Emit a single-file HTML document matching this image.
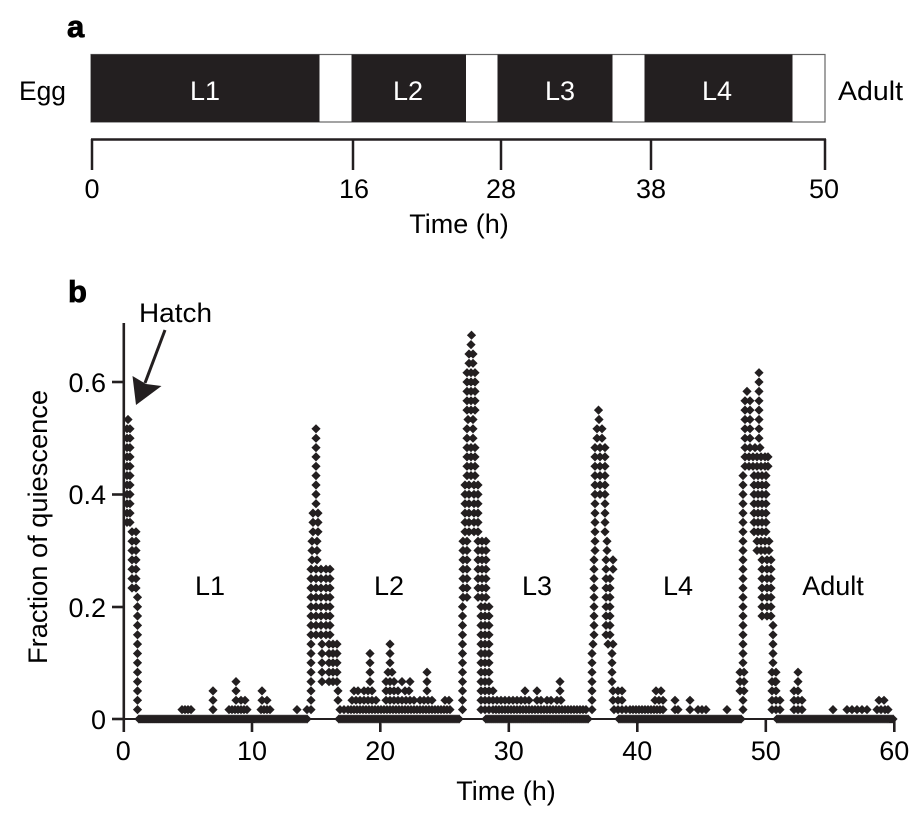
<!DOCTYPE html>
<html><head><meta charset="utf-8">
<style>
html,body{margin:0;padding:0;background:#fff}
svg{display:block}
text{font-family:"Liberation Sans",Arial,sans-serif;fill:#000}
</style></head>
<body>
<svg id="s" width="919" height="816" viewBox="0 0 919 816" xmlns="http://www.w3.org/2000/svg">
<!-- Panel a -->
<text x="67" y="37" font-size="31" font-weight="bold" stroke="#000" stroke-width="0.8">a</text>
<text x="19" y="100" font-size="27" textLength="47" lengthAdjust="spacingAndGlyphs">Egg</text>
<rect x="91" y="54.5" width="734" height="67.5" fill="#fff" stroke="#666" stroke-width="1.2"/>
<rect x="91" y="54.5" width="228.5" height="67.5" fill="#231f20"/>
<rect x="351.5" y="54.5" width="114.5" height="67.5" fill="#231f20"/>
<rect x="497.5" y="54.5" width="115" height="67.5" fill="#231f20"/>
<rect x="644.5" y="54.5" width="148" height="67.5" fill="#231f20"/>
<text x="205" y="100" font-size="27" text-anchor="middle" style="fill:#fff">L1</text>
<text x="408" y="100" font-size="27" text-anchor="middle" style="fill:#fff">L2</text>
<text x="560" y="100" font-size="27" text-anchor="middle" style="fill:#fff">L3</text>
<text x="717" y="100" font-size="27" text-anchor="middle" style="fill:#fff">L4</text>
<text x="838" y="100" font-size="27" textLength="65" lengthAdjust="spacingAndGlyphs">Adult</text>
<g stroke="#231f20" stroke-width="2.5" fill="none">
<line x1="91" y1="139.5" x2="826" y2="139.5"/>
<line x1="92" y1="139" x2="92" y2="170"/>
<line x1="353" y1="139" x2="353" y2="170"/>
<line x1="501" y1="139" x2="501" y2="170"/>
<line x1="651" y1="139" x2="651" y2="170"/>
<line x1="825" y1="139" x2="825" y2="170"/>
</g>
<g font-size="27" text-anchor="middle">
<text x="92" y="198">0</text>
<text x="354" y="198">16</text>
<text x="501" y="198">28</text>
<text x="651" y="198">38</text>
<text x="824" y="198">50</text>
<text x="459" y="233">Time (h)</text>
</g>

<!-- Panel b -->
<text x="68" y="302" font-size="31" font-weight="bold" stroke="#000" stroke-width="0.8">b</text>
<text x="139" y="322" font-size="27" textLength="73" lengthAdjust="spacingAndGlyphs">Hatch</text>
<line x1="165" y1="330" x2="145" y2="383" stroke="#231f20" stroke-width="3"/>
<polygon points="136,405 132.5,376 146,384 161.5,386" fill="#231f20"/>

<g stroke="#231f20" stroke-width="2" fill="none">
<line x1="123" y1="719" x2="896" y2="719"/>
</g>
<path id="pts" fill="#231f20" d=""/>
<g stroke="#231f20" stroke-width="2.6" fill="none">
<line x1="123.8" y1="323" x2="123.8" y2="732"/>
<line x1="112" y1="382" x2="124" y2="382"/>
<line x1="112" y1="494.5" x2="124" y2="494.5"/>
<line x1="112" y1="607" x2="124" y2="607"/>
<line x1="112" y1="719" x2="124" y2="719"/>
<line x1="252" y1="719" x2="252" y2="732"/>
<line x1="380.3" y1="719" x2="380.3" y2="732"/>
<line x1="508.8" y1="719" x2="508.8" y2="732"/>
<line x1="637.3" y1="719" x2="637.3" y2="732"/>
<line x1="765.8" y1="719" x2="765.8" y2="732"/>
<line x1="894.3" y1="719" x2="894.3" y2="732"/>
</g>
<g font-size="27" text-anchor="end">
<text x="106" y="392">0.6</text>
<text x="106" y="504">0.4</text>
<text x="106" y="617">0.2</text>
<text x="106" y="729">0</text>
</g>
<g font-size="27" text-anchor="middle">
<text x="123.3" y="760">0</text>
<text x="252" y="760">10</text>
<text x="380.3" y="760">20</text>
<text x="508.8" y="760">30</text>
<text x="637.3" y="760">40</text>
<text x="765.8" y="760">50</text>
<text x="894.3" y="760">60</text>
<text x="506" y="800">Time (h)</text>
</g>
<text transform="translate(47,527) rotate(-90)" font-size="27" text-anchor="middle" textLength="274" lengthAdjust="spacingAndGlyphs">Fraction of quiescence</text>
<g font-size="27" text-anchor="middle">
<text x="210" y="595">L1</text>
<text x="389" y="595">L2</text>
<text x="537" y="595">L3</text>
<text x="678" y="595">L4</text>
<text x="833" y="595">Adult</text>
</g>
</svg>
<script>
(function(){
var P=[];
function dm(x,k){P.push([x,k]);}
function col(x,a,b){for(var k=a;k<=b;k++)dm(x,k);}
function lv(k,xs){for(var i=0;i<xs.length;i++)dm(xs[i],k);}
function lvr(a,b,xs){for(var k=a;k<=b;k++)lv(k,xs);}
function row(x1,x2,k,s){for(var x=x1;x<=x2+0.01;x+=s)dm(x,k);}
// baseline
row(139,307,0,2);row(339,459,0,2);row(486,589,0,2);row(619,741,0,2);row(777,893,0,2);
// L1 peak
col(137.5,1,13);lvr(14,20,[132,136]);lvr(21,31,[127,130]);dm(128,32);
row(182,191,1,3);col(213,1,3);row(229,247,1,3);col(236,2,4);lv(2,[241,245]);
row(261,272,1,3);col(262,2,3);dm(267,2);dm(297,1);dm(307,1);
// L2 peak
lvr(23,31,[316]);lvr(20,22,[313,318]);lvr(17,19,[312,317]);
lvr(9,16,[311,316,321,326,330]);lvr(4,8,[311,322,329,333,337]);
lvr(2,3,[311,338]);lv(1,[311,340,344]);
// L2 cluster
row(348,452,1,3);
lv(2,[352,356,360,364,368,372,376,386,390,394,398,402,406,410,414,420,424,428,432,445,449]);
lv(3,[354,358,364,368,372,386,390,394,398,405,409,427]);
lv(4,[370,386,390,394,402,410,427]);
lv(5,[370,388,392,427]);lv(6,[370,390]);lv(7,[370,390]);dm(390,8);
// L3 peak
dm(471.5,41);dm(471,40);lvr(38,39,[469,473]);lvr(33,37,[467,471,475]);
lv(32,[468,473]);lvr(30,31,[467,473]);lvr(26,29,[467,471,475]);
lvr(20,25,[465,469,474,478]);lvr(13,19,[463,467,478,482,486]);
col(462.5,1,12);lvr(1,12,[481,485,489]);lvr(1,3,[493]);
// after L3
row(496,588,1,3);row(497,521,2,4);lv(2,[525,529,537,541,547,551,557,561]);
lv(3,[525,537,560]);dm(560,4);
// L4 peak
dm(598.5,33);dm(599,32);lvr(30,31,[597,602]);lvr(24,29,[595,600,605]);
lvr(20,23,[595,605]);lvr(18,19,[595,607]);lvr(16,17,[594,606,613]);
lvr(9,15,[594,606,610]);lv(8,[593,608,613]);lvr(4,7,[592,612]);
lvr(2,3,[592,613,618,622]);lv(1,[592,614,618,622,626]);
// after L4
row(630,665,1,3);lv(1,[675,678,690]);row(698,706,1,4);dm(727,1);
lv(2,[655,659,663,675,690]);lv(3,[656,661]);
// Adult peak
lvr(35,37,[759]);dm(747,35);lvr(30,34,[745,750,759]);lv(29,[745,750,755,760]);
lvr(27,28,[745,749,753,757,761,765,768]);lvr(20,26,[743,754,758,762,766]);
lvr(18,19,[743,757,761,765,769]);lvr(11,17,[743,762,767,771]);
lvr(6,10,[743,773]);lvr(3,5,[740,744,772,776]);lvr(1,2,[743,772,776,780]);dm(775,4);
col(798,1,5);col(794,1,3);col(802,1,2);
lv(1,[833,847,852,857,862,867,877,881,885,888]);lv(2,[879,884]);
var d='',h=4.6;
for(var i=0;i<P.length;i++){
  var x=P[i][0],y=719-P[i][1]*9.36;
  d+='M'+x.toFixed(1)+' '+(y-h).toFixed(1)+'L'+(x+h).toFixed(1)+' '+y.toFixed(1)+'L'+x.toFixed(1)+' '+(y+h).toFixed(1)+'L'+(x-h).toFixed(1)+' '+y.toFixed(1)+'Z';
}
document.getElementById('pts').setAttribute('d',d);
})();
</script>
</body></html>
